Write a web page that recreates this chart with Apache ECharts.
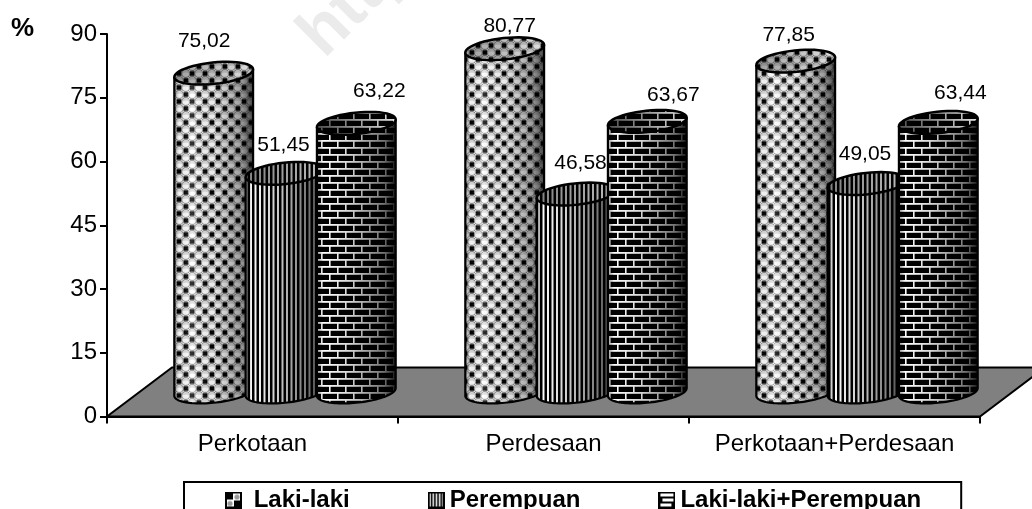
<!DOCTYPE html>
<html><head><meta charset="utf-8">
<style>html,body{margin:0;padding:0;background:#fff}#c{width:1032px;height:509px}</style>
<script src="https://cdn.jsdelivr.net/npm/echarts@6/dist/echarts.min.js"></script>
</head><body><div id="c"></div>
<script>
const categories = ['Perkotaan', 'Perdesaan', 'Perkotaan+Perdesaan'];
const yTicks = {min: 0, max: 90, interval: 15};
const lakiLaki = [75.02, 80.77, 77.85];
const perempuan = [51.45, 46.58, 49.05];
const gabungan = [63.22, 63.67, 63.44];
const seriesNames = ['Laki-laki', 'Perempuan', 'Laki-laki+Perempuan'];

// label nudges around each cylinder top, [dx, dy] by series then category
const labelNudge = [
  [[-9.5, -32], [5, -23], [-7, -26]],
  [[-1.5, -28], [4.5, -31], [-2, -29]],
  [[23, -32], [26, -26], [22, -29]]
];
const FONT = '"Liberation Sans", Arial, sans-serif';
const RX = 39.6, RY = 10.7, TILT = 6 * Math.PI / 180;
const DEPTH_X = 32.5, DEPTH_Y = 24.5, STEP = 71.3;

function tile(w, h, draw) {
  const c = document.createElement('canvas');
  c.width = w; c.height = h;
  draw(c.getContext('2d'), w, h);
  return c;
}
function ball(g, x, y) {
  g.fillStyle = '#6a6a6a';
  g.beginPath(); g.arc(x, y, 4.4, 0, 7); g.fill();
  g.fillStyle = '#dcdcdc';
  g.beginPath(); g.arc(x, y, 3.7, 0, 7); g.fill();
  g.fillStyle = '#fff';
  g.beginPath(); g.ellipse(x, y + 1, 3, 1.9, 0, 0, 7); g.fill();
}
const patterns = [
  tile(13, 14, (g, w, h) => {
    g.fillStyle = '#fafafa'; g.fillRect(0, 0, w, h);
    g.fillStyle = '#000';
    g.fillRect(8, 1.25, 4.5, 4.5); g.fillRect(1.5, 8.25, 4.5, 4.5);
    ball(g, 3.75, 3.5); ball(g, 10.25, 10.5);
    ball(g, 3.75 + 13, 3.5); ball(g, 3.75, 17.5); ball(g, 10.25 - 13, 10.5); ball(g, 10.25, -3.5);
  }),
  tile(9, 4, (g, w, h) => {
    g.fillStyle = '#fff'; g.fillRect(0, 0, w, h);
    g.fillStyle = '#000';
    g.fillRect(0, 0, 2.5, h); g.fillRect(4.5, 0, 2.5, h);
  }),
  tile(16, 14, (g, w, h) => {
    g.fillStyle = '#000'; g.fillRect(0, 0, w, h);
    g.fillStyle = '#fff';
    g.fillRect(0, 0, w, 1.8); g.fillRect(0, 7, w, 1.8);
    g.fillRect(1, 0, 1.6, 7); g.fillRect(9, 7, 1.6, 7);
  })
];
const bodyShade = [
  [[0, 'rgba(0,0,0,0.4)'], [0.06, 'rgba(0,0,0,0.05)'], [0.22, 'rgba(255,255,255,0.2)'], [0.5, 'rgba(0,0,0,0.08)'], [0.85, 'rgba(0,0,0,0.38)'], [1, 'rgba(0,0,0,0.72)']],
  [[0, 'rgba(0,0,0,0.5)'], [0.08, 'rgba(0,0,0,0)'], [0.4, 'rgba(0,0,0,0.2)'], [0.8, 'rgba(0,0,0,0.55)'], [1, 'rgba(0,0,0,0.8)']],
  [[0, 'rgba(0,0,0,0.4)'], [0.08, 'rgba(0,0,0,0)'], [0.4, 'rgba(0,0,0,0.15)'], [0.85, 'rgba(0,0,0,0.55)'], [1, 'rgba(0,0,0,0.9)']]
];
const topShade = [
  [[0, 'rgba(0,0,0,0.38)'], [1, 'rgba(0,0,0,0.12)']],
  [[0, 'rgba(0,0,0,0.5)'], [1, 'rgba(0,0,0,0.25)']],
  [[0, 'rgba(0,0,0,0.7)'], [1, 'rgba(0,0,0,0.1)']]
];
function legendIcon(i) {
  return 'image://' + tile(17, 17, (g, w, h) => {
    g.fillStyle = '#fff'; g.fillRect(0, 0, w, h);
    if (i === 0) {
      g.fillStyle = '#000';
      g.fillRect(2, 2, 6, 6); g.fillRect(9, 9, 6, 6);
      g.fillStyle = '#999';
      g.beginPath(); g.arc(12, 5.5, 2.6, 0, 7); g.fill();
      g.beginPath(); g.arc(5, 12, 2.6, 0, 7); g.fill();
    } else if (i === 1) {
      g.fillStyle = '#000';
      for (let x = 3; x < 15; x += 3.2) g.fillRect(x, 2, 1.7, 13);
    } else {
      g.fillStyle = '#000';
      g.fillRect(2, 5, 13, 2); g.fillRect(2, 10, 13, 2); g.fillRect(2, 5, 2, 5); g.fillRect(13, 10, 2, 5);
    }
    g.strokeStyle = '#000'; g.lineWidth = 2;
    g.strokeRect(1, 1, 15, 15);
  }).toDataURL();
}

function ellipsePt(cx, cy, t) {
  const X = RX * Math.cos(t), Y = RY * Math.sin(t);
  return [cx + X * Math.cos(TILT) + Y * Math.sin(TILT), cy - X * Math.sin(TILT) + Y * Math.cos(TILT)];
}
const T0 = Math.atan2(RY * Math.sin(TILT), RX * Math.cos(TILT));
function arc(cx, cy, from, to) {
  const pts = [];
  for (let k = 0; k <= 48; k++) pts.push(ellipsePt(cx, cy, from + (to - from) * k / 48));
  return pts;
}
function linear(stops) {
  return {type: 'linear', x: 0, y: 0, x2: 1, y2: 0,
    colorStops: stops.map(s => ({offset: s[0], color: s[1]}))};
}

function cylinder(s) {
  return function (params, api) {
    const cat = api.value(0), val = api.value(1);
    const top = api.coord([cat, val]), base = api.coord([cat, 0]);
    const cx = base[0] + DEPTH_X + (s - 1) * STEP;
    const yb = base[1] - DEPTH_Y, yt = top[1] - DEPTH_Y;
    const bodyPts = [].concat(
      arc(cx, yb, T0 + Math.PI, T0),
      arc(cx, yt, T0, T0 + Math.PI)
    );
    const edgePts = [ellipsePt(cx, yt, T0 + Math.PI)].concat(
      arc(cx, yb, T0 + Math.PI, T0),
      [ellipsePt(cx, yt, T0)]
    );
    const topPts = arc(cx, yt, 0, Math.PI * 2);
    const n = labelNudge[s][cat];
    return {type: 'group', children: [
      {type: 'polygon', shape: {points: bodyPts}, style: {fill: {image: patterns[s], repeat: 'repeat'}, stroke: null}},
      {type: 'polygon', shape: {points: bodyPts}, style: {fill: linear(bodyShade[s]), stroke: null}},
      {type: 'polyline', shape: {points: edgePts}, style: {fill: null, stroke: '#000', lineWidth: 2.2}},
      {type: 'polygon', shape: {points: topPts}, style: {fill: {image: patterns[s], repeat: 'repeat'}, stroke: null}},
      {type: 'polygon', shape: {points: topPts}, style: {fill: linear(topShade[s]), stroke: '#000', lineWidth: 2.5}},
      {type: 'text', style: {
        text: val.toFixed(2).replace('.', ','), x: cx + n[0], y: yt + n[1],
        fill: '#000', font: '21px ' + FONT, textAlign: 'center', textVerticalAlign: 'middle'
      }}
    ]};
  };
}
function floor(params, api) {
  const p = api.coord([0, 0]), band = api.size([1, 0])[0];
  const l = p[0] - band / 2, r = l + band * categories.length, y = p[1];
  return {type: 'polygon', shape: {points: [
    [l, y], [r, y], [r + DEPTH_X * 2, y - DEPTH_Y * 2], [l + DEPTH_X * 2, y - DEPTH_Y * 2]
  ]}, style: {fill: '#808080', stroke: '#000', lineWidth: 2}};
}

const values = [lakiLaki, perempuan, gabungan];
const chart = echarts.init(document.getElementById('c'), null, {renderer: 'canvas'});
chart.setOption({
  animation: false,
  backgroundColor: '#fff',
  title: {text: '%', left: 11, top: 16, padding: 0,
    textStyle: {fontFamily: FONT, fontSize: 26, fontWeight: 'bold', color: '#000'}},
  grid: {left: 107, right: 52, top: 34, bottom: 92.5, containLabel: false},
  graphic: [{type: 'text', x: 335, y: 70, rotation: Math.PI / 4, z: -1, silent: true,
    style: {text: 'http://', fill: '#ebebeb', font: 'bold 68px ' + FONT, textVerticalAlign: 'bottom'}}],
  legend: {
    left: 184, top: 482, padding: [6, 40, 24, 41], itemGap: 78, itemWidth: 17, itemHeight: 17,
    selectedMode: false, borderColor: '#000', borderWidth: 2, backgroundColor: '#fff',
    formatter: n => n === seriesNames[0] ? ' ' + n : n,
    itemStyle: {borderWidth: 0},
    textStyle: {fontFamily: FONT, fontSize: 24, fontWeight: 'bold', color: '#000'},
    data: seriesNames.map((name, i) => ({name, icon: legendIcon(i)}))
  },
  xAxis: {type: 'category', data: categories,
    axisLine: {lineStyle: {color: '#000', width: 2}},
    axisTick: {show: true, alignWithLabel: false, length: 7, lineStyle: {color: '#000', width: 2}},
    axisLabel: {interval: 0, margin: 16, color: '#000', fontFamily: FONT, fontSize: 24}},
  yAxis: {type: 'value', min: yTicks.min, max: yTicks.max, interval: yTicks.interval,
    splitLine: {show: false},
    axisLine: {show: true, lineStyle: {color: '#000', width: 2}},
    axisTick: {show: true, length: 7, lineStyle: {color: '#000', width: 2}},
    axisLabel: {margin: 10, color: '#000', fontFamily: FONT, fontSize: 24}},
  series: [
    {type: 'custom', name: 'floor', silent: true, renderItem: floor, data: [[0, 0]], encode: {x: 0, y: 1}}
  ].concat(seriesNames.map((name, s) => ({
    type: 'custom', name, silent: true, renderItem: cylinder(s),
    data: categories.map((c, i) => [i, values[s][i]]), encode: {x: 0, y: 1}
  })))
});
</script></body></html>
